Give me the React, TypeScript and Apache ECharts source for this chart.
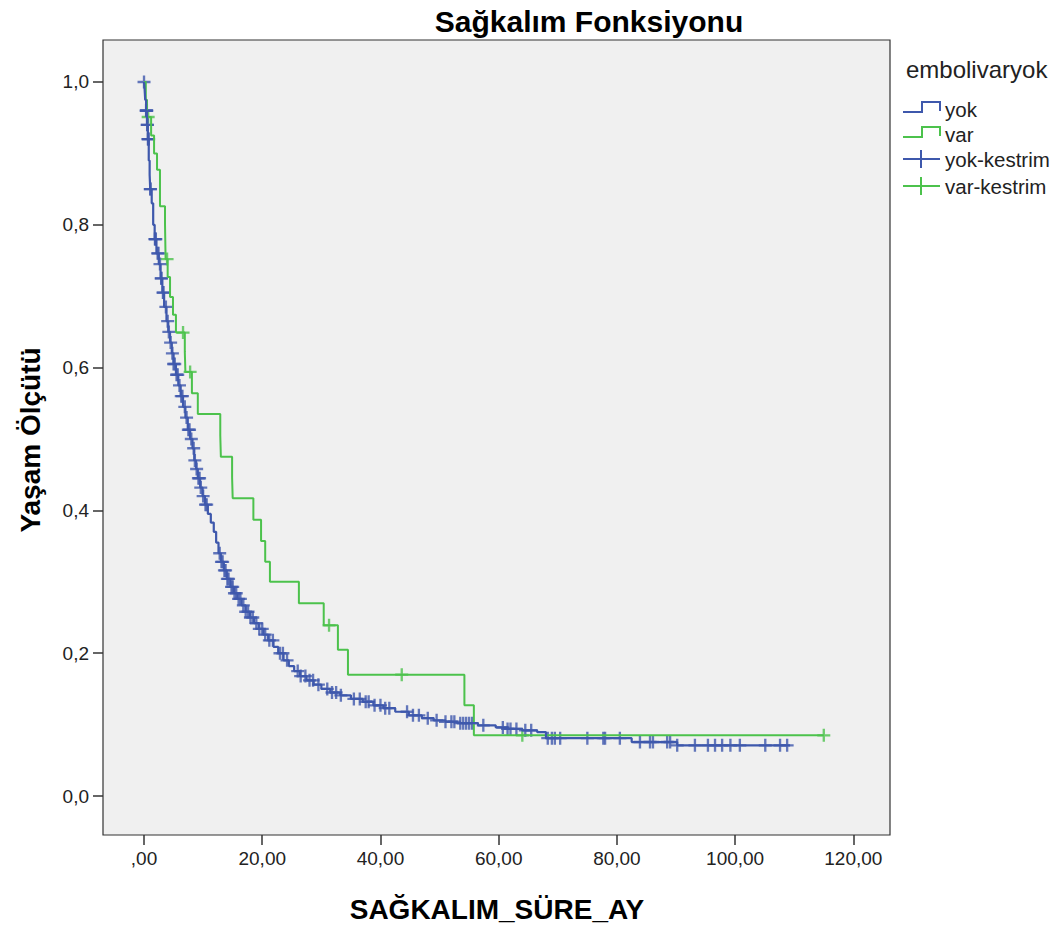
import React, { useEffect, useRef } from "react";
import * as echarts from "echarts";

// ---- data ----
const xTicks = [0, 20, 40, 60, 80, 100, 120];
const yTicks = [0, 0.2, 0.4, 0.6, 0.8, 1.0];

// Kaplan-Meier steps: [time, survival after event]
const yokEvents: [number, number][] = [
  [0.1, 0.99], [0.2, 0.975], [0.35, 0.96], [0.5, 0.94], [0.65, 0.92], [0.8, 0.89],
  [0.95, 0.87], [1.05, 0.85], [1.3, 0.83], [1.55, 0.8], [1.8, 0.78], [2.1, 0.76],
  [2.5, 0.745], [2.8, 0.725], [3.1, 0.705], [3.4, 0.685], [3.8, 0.665], [4.1, 0.65],
  [4.4, 0.635], [4.7, 0.62], [5.0, 0.605], [5.4, 0.59], [5.8, 0.575], [6.2, 0.56],
  [6.6, 0.545], [7.0, 0.53], [7.4, 0.513], [7.8, 0.5], [8.2, 0.487], [8.5, 0.47],
  [8.8, 0.458], [9.1, 0.445], [9.5, 0.432], [9.9, 0.42], [10.3, 0.408], [10.8, 0.395],
  [11.3, 0.383], [11.8, 0.37], [12.2, 0.355], [12.6, 0.34], [13.0, 0.328], [13.5, 0.316],
  [14.0, 0.304], [14.6, 0.293], [15.2, 0.284], [15.8, 0.276], [16.5, 0.267], [17.2, 0.258],
  [17.9, 0.25], [18.6, 0.242], [19.4, 0.234], [20.2, 0.226], [21.0, 0.218], [21.9, 0.209],
  [22.7, 0.2], [23.6, 0.19], [24.5, 0.182], [25.4, 0.175], [26.4, 0.168], [27.5, 0.162],
  [28.7, 0.156], [30.0, 0.15], [31.5, 0.145], [33.2, 0.141], [35.0, 0.136], [37.0, 0.132],
  [38.8, 0.127], [40.5, 0.123], [42.5, 0.118], [44.8, 0.113], [47.0, 0.109], [49.0, 0.106],
  [51.0, 0.104], [53.0, 0.102], [56.5, 0.099], [59.5, 0.096], [61.5, 0.094], [64.0, 0.092],
  [66.5, 0.0895], [68.0, 0.081], [82.5, 0.0756], [90.2, 0.071],
];
const yokEnd = 109.3;
const yokCensor = [
  0, 0.35, 0.4, 0.42, 0.48, 0.53, 0.58, 0.66, 0.72, 0.78, 1.05, 1.1, 1.85, 1.9, 2.0, 2.3, 2.45,
  2.7, 2.9, 2.95, 3.2, 3.3, 3.7, 4.0, 4.2, 4.5, 4.8, 5.0, 5.2, 5.5, 5.7, 6.0, 6.3, 6.5, 6.9,
  7.2, 7.5, 7.7, 8.0, 8.4, 8.6, 8.9, 9.2, 9.4, 9.6, 10.0, 10.4, 10.6, 12.8, 13.1, 13.3, 13.6,
  13.8, 14.1, 14.3, 14.8, 15.0, 15.3, 15.6, 16.0, 16.3, 16.8, 17.2, 17.6, 18.0, 18.4, 19.0,
  19.5, 20.0, 20.5, 21.2, 21.8, 23.0, 23.5, 24.2, 26.0, 26.5, 27.3, 28.0, 28.6, 29.5, 31.0,
  31.8, 32.5, 33.3, 35.5, 36.5, 37.5, 38.0, 39.0, 40.0, 40.8, 41.5, 44.5, 45.5, 46.5, 48.0,
  49.5, 51.0, 52.0, 52.5, 53.5, 54.0, 54.5, 55.0, 55.5, 57.4, 60.7, 61.5, 62.0, 63.0, 64.5,
  65.5, 68.3, 69.0, 69.5, 70.4, 75.0, 77.7, 78.0, 80.5, 83.9, 85.6, 86.1, 88.5, 89.0, 90.2,
  93.2, 95.4, 96.6, 97.8, 99.2, 100.8, 105.1, 107.6, 108.8,
];

const varEvents: [number, number][] = [
  [0.3, 0.975], [0.5, 0.951], [1.2, 0.925], [1.7, 0.9], [2.2, 0.877], [2.7, 0.826],
  [3.55, 0.801], [3.6, 0.776], [3.65, 0.752], [4.0, 0.727], [4.4, 0.699], [4.9, 0.674],
  [5.4, 0.649], [6.9, 0.622], [7.0, 0.594], [8.1, 0.564], [9.1, 0.535], [12.9, 0.505],
  [13.0, 0.475], [14.9, 0.446], [15.0, 0.417], [18.5, 0.387], [19.8, 0.357], [20.5, 0.328],
  [21.3, 0.3], [26.2, 0.27], [30.4, 0.239], [32.8, 0.205], [34.5, 0.17], [54.2, 0.127],
  [55.8, 0.085],
];
const varEnd = 115.0;
const varCensor = [0.7, 3.9, 6.6, 7.8, 31.3, 43.6, 64.0, 115.0];

const groupNames = ["yok", "var"];
const legendTitle = "embolivaryok";

// ---- helpers ----
const BLUE = "#3e58ac";
const GREEN = "#4cc24c";
const FONT = "'Liberation Sans', Arial, sans-serif";
const PLUS = "path://M4.1,0H5.9V4.1H10V5.9H5.9V10H4.1V5.9H0V4.1H4.1Z";

function stepData(events: [number, number][], end: number) {
  const pts: [number, number][] = [[0, 1], ...events];
  pts.push([end, events[events.length - 1][1]]);
  return pts;
}
function survAt(events: [number, number][], t: number) {
  let s = 1;
  for (const [et, es] of events) {
    if (et <= t) s = es;
    else break;
  }
  return s;
}

export default function App() {
  const ref = useRef<HTMLDivElement>(null);
  useEffect(() => {
    if (!ref.current) return;
    const chart = echarts.init(ref.current, null, { renderer: "svg" });
    const gl = 103, gr = 890, gt = 40, gb = 835;
    chart.setOption({
      animation: false,
      backgroundColor: "#ffffff",
      grid: {
        left: gl, top: gt, width: gr - gl, height: gb - gt,
        show: true, backgroundColor: "#f0f0f0", borderColor: "#333", borderWidth: 1.2,
      },
      xAxis: {
        type: "value", min: -6.94, max: 126.2,
        splitLine: { show: false },
        axisLine: { show: false, onZero: false },
        axisTick: { show: true, length: 10, customValues: xTicks, lineStyle: { color: "#333", width: 1.5 } },
        axisLabel: {
          customValues: xTicks, margin: 14, color: "#222", fontSize: 19, fontFamily: FONT,
          formatter: (v: number) => (v === 0 ? ",00" : v.toFixed(2).replace(".", ",")),
        },
      },
      yAxis: {
        type: "value", min: -0.0546, max: 1.0588,
        splitLine: { show: false },
        axisLine: { show: false, onZero: false },
        axisTick: { show: true, length: 10, customValues: yTicks, lineStyle: { color: "#333", width: 1.5 } },
        axisLabel: {
          customValues: yTicks, margin: 14, color: "#222", fontSize: 19, fontFamily: FONT,
          formatter: (v: number) => v.toFixed(1).replace(".", ","),
        },
      },
      series: [
        {
          name: "var", type: "line", step: "end", symbol: "none",
          data: stepData(varEvents, varEnd),
          lineStyle: { color: GREEN, width: 2 },
        },
        {
          name: "yok", type: "line", step: "end", symbol: "none",
          data: stepData(yokEvents, yokEnd),
          lineStyle: { color: BLUE, width: 2.2 },
        },
        {
          name: "var-kestrim", type: "scatter", symbol: PLUS, symbolSize: 13,
          data: varCensor.map((t) => [t, survAt(varEvents, t)]),
          itemStyle: { color: GREEN },
        },
        {
          name: "yok-kestrim", type: "scatter", symbol: PLUS, symbolSize: 13,
          data: yokCensor.map((t) => [t, survAt(yokEvents, t)]),
          itemStyle: { color: BLUE },
        },
      ],
      graphic: [
        {
          type: "text", x: 589, y: 21,
          style: { text: "Sağkalım Fonksiyonu", font: `bold 30px ${FONT}`, fill: "#000", align: "center", verticalAlign: "middle" },
        },
        {
          type: "text", x: 497, y: 909,
          style: { text: "SAĞKALIM_SÜRE_AY", font: `bold 28px ${FONT}`, fill: "#000", align: "center", verticalAlign: "middle" },
        },
        {
          type: "text", x: 30, y: 440, rotation: Math.PI / 2,
          style: { text: "Yaşam Ölçütü", font: `bold 28px ${FONT}`, fill: "#000", align: "center", verticalAlign: "middle" },
        },
        {
          type: "text", x: 906, y: 69,
          style: { text: legendTitle, font: `24px ${FONT}`, fill: "#222", align: "left", verticalAlign: "middle" },
        },
        {
          type: "polyline", shape: { points: [[903, 112], [922, 112], [922, 102], [940, 102], [940, 111]] },
          style: { stroke: BLUE, lineWidth: 2, fill: "none" },
        },
        {
          type: "text", x: 945, y: 109,
          style: { text: groupNames[0], font: `20.5px ${FONT}`, fill: "#222", align: "left", verticalAlign: "middle" },
        },
        {
          type: "polyline", shape: { points: [[903, 137], [922, 137], [922, 127], [940, 127], [940, 136]] },
          style: { stroke: GREEN, lineWidth: 2, fill: "none" },
        },
        {
          type: "text", x: 945, y: 134,
          style: { text: groupNames[1], font: `20.5px ${FONT}`, fill: "#222", align: "left", verticalAlign: "middle" },
        },
        { type: "line", shape: { x1: 903, y1: 159, x2: 940, y2: 159 }, style: { stroke: BLUE, lineWidth: 2 } },
        { type: "line", shape: { x1: 921, y1: 150, x2: 921, y2: 168 }, style: { stroke: BLUE, lineWidth: 2 } },
        {
          type: "text", x: 945, y: 159,
          style: { text: groupNames[0] + "-kestrim", font: `20.5px ${FONT}`, fill: "#222", align: "left", verticalAlign: "middle" },
        },
        { type: "line", shape: { x1: 903, y1: 186, x2: 940, y2: 186 }, style: { stroke: GREEN, lineWidth: 2 } },
        { type: "line", shape: { x1: 921, y1: 177, x2: 921, y2: 195 }, style: { stroke: GREEN, lineWidth: 2 } },
        {
          type: "text", x: 945, y: 186,
          style: { text: groupNames[1] + "-kestrim", font: `20.5px ${FONT}`, fill: "#222", align: "left", verticalAlign: "middle" },
        },
      ],
    });
    return () => chart.dispose();
  }, []);
  return <div ref={ref} style={{ width: 1058, height: 928, position: "absolute", left: 0, top: 0 }} />;
}
